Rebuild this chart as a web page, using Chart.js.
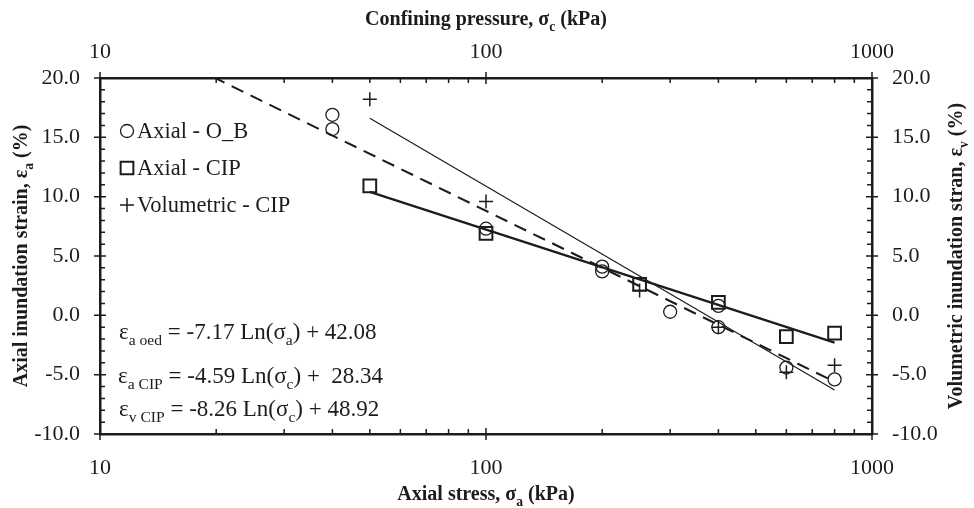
<!DOCTYPE html>
<html lang="en">
<head>
    <meta charset="UTF-8">
    <title>Inundation strain vs stress</title>
    <script src="https://cdn.jsdelivr.net/npm/chart.js@4.4.1/dist/chart.umd.min.js"></script>
    <style>
        html, body { margin: 0; padding: 0; background: #fff; }
        #wrap { width: 974px; height: 508px; }
    </style>
</head>
<body>
    <div id="wrap"><canvas id="strainChart" width="974" height="508"></canvas></div>

    <script>
        // Axial - O_B (oedometer), plotted against axial stress
        const obStress = [40, 40, 100, 200, 200, 300, 400, 400, 600, 800];
        const obStrain = [16.9, 15.7, 7.3, 4.1, 3.7, 0.3, 0.8, -1.0, -4.4, -5.4];

        // CIP tests, plotted against confining pressure
        const cipPressure = [50, 100, 250, 400, 600, 800];
        const cipAxial = [10.9, 6.9, 2.6, 1.1, -1.8, -1.5];
        const cipVolumetric = [18.2, 9.6, 2.1, -1.0, -4.8, -4.2];

        // fitted lines (end points)
        const oedFitX = [19.6, 800];
        const oedFitY = [20.1, -5.6];
        const cipAxialFitX = [50, 800];
        const cipAxialFitY = [10.4, -2.3];
        const cipVolFitX = [50, 800];
        const cipVolFitY = [16.6, -6.3];

        const logTicks = [10, 100, 1000];
        const yTicks = [-10, -5, 0, 5, 10, 15, 20];

        const INK = '#1c1c1c';
        const SERIF = '"Liberation Serif", "Times New Roman", serif';

        function pts(xs, ys) {
            return xs.map((x, i) => ({ x: x, y: ys[i] }));
        }

        // text with subscripts: parts = [[text, isSub], ...]
        function drawRich(c, parts, x, y, size, bold, align) {
            const w = parts.reduce((s, p) => {
                c.font = (bold ? 'bold ' : '') + (p[1] ? size * 0.68 : size) + 'px ' + SERIF;
                return s + c.measureText(p[0]).width;
            }, 0);
            let cx = align === 'center' ? x - w / 2 : x;
            c.textAlign = 'left';
            c.textBaseline = 'alphabetic';
            parts.forEach(p => {
                c.font = (bold ? 'bold ' : '') + (p[1] ? size * 0.68 : size) + 'px ' + SERIF;
                c.fillText(p[0], cx, y + (p[1] ? size * 0.28 : 0));
                cx += c.measureText(p[0]).width;
            });
        }

        const decorations = {
            id: 'decorations',
            afterDatasetsDraw(chart) {
                const c = chart.ctx;
                const a = chart.chartArea;
                const sx = chart.scales.x, sy = chart.scales.y;
                c.save();
                c.strokeStyle = INK;
                c.fillStyle = INK;

                // tick marks
                c.lineWidth = 1.5;
                c.beginPath();
                for (let d = 10; d < 1000; d *= 10) {
                    for (let m = 2; m <= 9; m++) {
                        const px = sx.getPixelForValue(d * m);
                        c.moveTo(px, a.bottom); c.lineTo(px, a.bottom - 5);
                        c.moveTo(px, a.top); c.lineTo(px, a.top + 5);
                    }
                }
                logTicks.forEach(v => {
                    const px = sx.getPixelForValue(v);
                    c.moveTo(px, a.bottom - 6); c.lineTo(px, a.bottom + 6);
                    c.moveTo(px, a.top - 6); c.lineTo(px, a.top + 6);
                });
                for (let v = -10; v <= 20; v++) {
                    const py = sy.getPixelForValue(v);
                    if (v % 5 === 0) {
                        c.moveTo(a.left - 6, py); c.lineTo(a.left + 6, py);
                        c.moveTo(a.right - 6, py); c.lineTo(a.right + 6, py);
                    } else {
                        c.moveTo(a.left, py); c.lineTo(a.left + 5, py);
                        c.moveTo(a.right, py); c.lineTo(a.right - 5, py);
                    }
                }
                c.stroke();

                // legend inside the plot
                const legend = [
                    ['Axial - O_B', 'circle', 6.5, 1.3],
                    ['Axial - CIP', 'rect', 9, 2],
                    ['Volumetric - CIP', 'cross', 7, 1.5]
                ];
                legend.forEach((item, i) => {
                    const y = 131 + i * 37;
                    c.lineWidth = item[3];
                    c.fillStyle = 'rgba(0,0,0,0)';
                    Chart.helpers.drawPoint(c, { pointStyle: item[1], radius: item[2], rotation: 0, borderWidth: item[3] }, 127, y);
                    c.fillStyle = INK;
                    c.font = '22.5px ' + SERIF;
                    c.textAlign = 'left';
                    c.textBaseline = 'middle';
                    c.fillText(item[0], 137, y + 1);
                });

                // regression equations
                drawRich(c, [['ε', 0], ['a oed', 1], [' = -7.17 Ln(σ', 0], ['a', 1], [') + 42.08', 0]], 119, 339, 23, false, 'left');
                drawRich(c, [['ε', 0], ['a CIP', 1], [' = -4.59 Ln(σ', 0], ['c', 1], [') +  28.34', 0]], 118, 383, 23, false, 'left');
                drawRich(c, [['ε', 0], ['v CIP', 1], [' = -8.26 Ln(σ', 0], ['c', 1], [') + 48.92', 0]], 119, 416, 23, false, 'left');

                // axis titles
                drawRich(c, [['Confining pressure, σ', 0], ['c', 1], [' (kPa)', 0]], 486, 25, 20, true, 'center');
                drawRich(c, [['Axial stress, σ', 0], ['a', 1], [' (kPa)', 0]], 486, 500, 20, true, 'center');
                c.save();
                c.translate(27, 256);
                c.rotate(-Math.PI / 2);
                drawRich(c, [['Axial inundation strain, ε', 0], ['a', 1], [' (%)', 0]], 0, 0, 20, true, 'center');
                c.restore();
                c.save();
                c.translate(962, 256);
                c.rotate(-Math.PI / 2);
                drawRich(c, [['Volumetric inundation stran, ε', 0], ['v', 1], [' (%)', 0]], 0, 0, 20, true, 'center');
                c.restore();

                c.restore();
            }
        };

        const tickFont = { family: SERIF, size: 22 };
        const logAxis = (position, height, pad) => ({
            type: 'logarithmic',
            position: position,
            min: 10,
            max: 1000,
            grid: { display: false, drawTicks: false },
            border: { display: true, color: INK, width: 2.5 },
            afterBuildTicks: s => { s.ticks = logTicks.map(v => ({ value: v })); },
            afterFit: s => { s.height = height; },
            ticks: {
                color: INK, font: tickFont, padding: pad, autoSkip: false, maxRotation: 0,
                callback: v => String(v)
            }
        });
        const linAxis = (position, width) => ({
            type: 'linear',
            position: position,
            min: -10,
            max: 20,
            grid: { display: false, drawTicks: false },
            border: { display: true, color: INK, width: 2.5 },
            afterBuildTicks: s => { s.ticks = yTicks.map(v => ({ value: v })); },
            afterFit: s => { s.width = width; },
            ticks: { color: INK, font: tickFont, padding: 20, callback: v => v.toFixed(1) }
        });

        new Chart(document.getElementById('strainChart'), {
            type: 'scatter',
            data: {
                datasets: [
                    {
                        label: 'eps_a oed fit', xAxisID: 'x', yAxisID: 'y',
                        data: pts(oedFitX, oedFitY), showLine: true, pointRadius: 0,
                        borderColor: INK, borderWidth: 2, borderDash: [13, 8]
                    },
                    {
                        label: 'eps_a CIP fit', xAxisID: 'x2', yAxisID: 'y',
                        data: pts(cipAxialFitX, cipAxialFitY), showLine: true, pointRadius: 0,
                        borderColor: INK, borderWidth: 2.2
                    },
                    {
                        label: 'eps_v CIP fit', xAxisID: 'x2', yAxisID: 'y',
                        data: pts(cipVolFitX, cipVolFitY), showLine: true, pointRadius: 0,
                        borderColor: INK, borderWidth: 1.2
                    },
                    {
                        label: 'Axial - O_B', xAxisID: 'x', yAxisID: 'y',
                        data: pts(obStress, obStrain), pointStyle: 'circle', pointRadius: 6.5,
                        borderColor: INK, borderWidth: 1.3, backgroundColor: 'rgba(0,0,0,0)'
                    },
                    {
                        label: 'Axial - CIP', xAxisID: 'x2', yAxisID: 'y',
                        data: pts(cipPressure, cipAxial), pointStyle: 'rect', pointRadius: 9,
                        borderColor: INK, borderWidth: 2, backgroundColor: 'rgba(0,0,0,0)'
                    },
                    {
                        label: 'Volumetric - CIP', xAxisID: 'x2', yAxisID: 'y',
                        data: pts(cipPressure, cipVolumetric), pointStyle: 'cross', pointRadius: 7,
                        borderColor: INK, borderWidth: 1.5
                    }
                ]
            },
            options: {
                responsive: false,
                animation: false,
                layout: { padding: 0 },
                plugins: { legend: { display: false }, tooltip: { enabled: false } },
                scales: {
                    x: logAxis('bottom', 74, 21),
                    x2: logAxis('top', 78, 13),
                    y: linAxis('left', 100),
                    y2: linAxis('right', 102)
                }
            },
            plugins: [decorations]
        });
    </script>
</body>
</html>
